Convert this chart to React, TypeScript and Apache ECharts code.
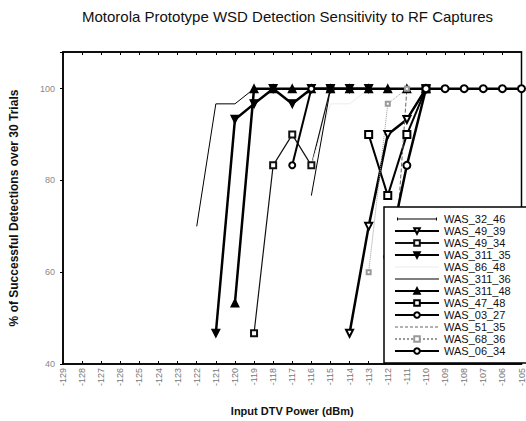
import React, { useEffect, useRef } from "react";
import * as echarts from "echarts";

// Input DTV power (dBm) positions where measurements exist
const POWER_DBM = [-122, -121, -120, -119, -118, -117, -116, -115, -114, -113, -112, -111, -110, -109, -108, -107, -106, -105];

// % of successful detections over 30 trials (null = no point)
const WAS_32_46 = [70, 96.7, 96.7, 100, null, null, null, null, null, null, null, null, null, null, null, null, null, null];
const WAS_49_39 = [null, null, null, null, null, null, null, null, 46.7, 70, 90, 93.3, 100, null, null, null, null, null];
const WAS_49_34 = [null, null, null, 46.7, 83.3, 90, 83.3, 100, null, null, null, null, null, null, null, null, null, null];
const WAS_311_35 = [null, 46.7, 93.3, 96.7, 100, 96.7, 100, 100, 100, 100, null, null, null, null, null, null, null, null];
const WAS_86_48 = [null, null, null, null, null, null, 83.3, 96.7, 96.7, 100, null, null, null, null, null, null, null, null];
const WAS_311_36 = [null, null, null, null, null, null, 76.7, 100, null, null, null, null, null, null, null, null, null, null];
const WAS_311_48 = [null, null, 53.3, 100, 100, 100, 100, 100, 100, 100, 100, 100, 100, null, null, null, null, null];
const WAS_47_48 = [null, null, null, null, null, null, null, null, null, 90, 76.7, 90, 100, null, null, null, null, null];
const WAS_03_27 = [null, null, null, null, null, 83.3, 100, null, null, null, null, null, null, null, null, null, null, null];
const WAS_51_35 = [null, null, null, null, null, null, null, null, null, null, 40, 100, null, null, null, null, null, null];
const WAS_68_36 = [null, null, null, null, null, null, null, null, null, 60, 96.7, 100, null, null, null, null, null, null];
const WAS_06_34 = [null, null, null, null, null, null, null, null, null, null, 63.3, 83.3, 100, 100, 100, 100, 100, 100];

const SERIES_NAMES = ["WAS_32_46", "WAS_49_39", "WAS_49_34", "WAS_311_35", "WAS_86_48", "WAS_311_36", "WAS_311_48", "WAS_47_48", "WAS_03_27", "WAS_51_35", "WAS_68_36", "WAS_06_34"];
const SERIES_VALUES = [WAS_32_46, WAS_49_39, WAS_49_34, WAS_311_35, WAS_86_48, WAS_311_36, WAS_311_48, WAS_47_48, WAS_03_27, WAS_51_35, WAS_68_36, WAS_06_34];

const STYLES: any[] = [
  { symbol: "none", color: "#000", width: 1, type: "solid", icon: "tick" },
  { symbol: "emptyTriangle", symbolSize: 7, rotate: 180, color: "#000", width: 2.5, type: "solid" },
  { symbol: "emptyRect", symbolSize: 6, color: "#111", width: 1.2, type: "solid" },
  { symbol: "triangle", symbolSize: 8, rotate: 180, color: "#000", width: 2.5, type: "solid" },
  { symbol: "none", color: "#ececec", width: 1, type: "solid", icon: "solid" },
  { symbol: "none", color: "#000", width: 1, type: "solid", icon: "solid" },
  { symbol: "triangle", symbolSize: 8, color: "#000", width: 2.5, type: "solid" },
  { symbol: "emptyRect", symbolSize: 7, color: "#000", width: 2, type: "solid" },
  { symbol: "emptyCircle", symbolSize: 6, color: "#000", width: 2, type: "solid" },
  { symbol: "none", color: "#666", width: 1, type: "dashed", icon: "dashed" },
  { symbol: "emptyRect", symbolSize: 4, color: "#999", width: 1, type: "dotted" },
  { symbol: "emptyCircle", symbolSize: 7, color: "#000", width: 2.5, type: "solid" },
];

// legend icon paths (44x7 box, thin line through the middle)
const CORNERS = " M0,0 L0.05,0 L0.05,0.05 Z M44,7 L43.95,7 L43.95,6.95 Z";
function iconPath(kind: string): string {
  if (kind === "tick") {
    return "path://M2,3 L42,3 L42,4 L2,4 Z M2,2 L3,2 L3,5 L2,5 Z M41,2 L42,2 L42,5 L41,5 Z" + CORNERS;
  }
  if (kind === "dashed") {
    let d = "";
    for (let x = 0; x < 44; x += 5) {
      const e = Math.min(x + 3, 44);
      d += `M${x},3 L${e},3 L${e},4 L${x},4 Z `;
    }
    return "path://" + d + CORNERS;
  }
  return "path://M0,3 L44,3 L44,4 L0,4 Z" + CORNERS;
}

const FONT = "'Liberation Sans', Arial, sans-serif";

export default function App() {
  const ref = useRef<HTMLDivElement>(null);
  useEffect(() => {
    if (!ref.current) return;
    document.body.style.margin = "0";
    const chart = echarts.init(ref.current, null, { renderer: "svg" });
    const series = SERIES_NAMES.map((name, i) => {
      const s = STYLES[i];
      return {
        name,
        type: "line",
        xAxisIndex: 0,
        data: POWER_DBM.map((p, j) => [p, SERIES_VALUES[i][j]]),
        connectNulls: false,
        symbol: s.symbol,
        symbolSize: s.symbolSize || 4,
        symbolRotate: s.rotate || 0,
        showSymbol: s.symbol !== "none",
        lineStyle: { color: s.color, width: s.width, type: s.type },
        itemStyle: { color: s.color, borderColor: s.color, borderWidth: 1.2 },
        emphasis: { disabled: true },
      };
    });
    const legendData = SERIES_NAMES.map((name, i) => {
      const s = STYLES[i];
      if (s.icon) {
        return { name, icon: iconPath(s.icon), itemStyle: { color: s.color, borderWidth: 0 } };
      }
      return { name };
    });
    chart.setOption({
      animation: false,
      textStyle: { fontFamily: FONT },
      title: {
        text: "Motorola Prototype WSD Detection Sensitivity to RF Captures",
        left: 77,
        top: 4,
        textStyle: { fontSize: 15, fontWeight: "normal", color: "#111", fontFamily: FONT },
      },
      grid: { left: 61, right: 4, top: 52, bottom: 52, show: true, borderColor: "#000", borderWidth: 1.5, backgroundColor: "#fff" },
      legend: {
        orient: "vertical",
        left: 384,
        top: 207,
        padding: [6, 17, 6, 10],
        itemWidth: 44,
        itemHeight: 7,
        itemGap: 0,
        backgroundColor: "#fff",
        borderColor: "#000",
        borderWidth: 1.5,
        z: 10,
        textStyle: { fontSize: 11, lineHeight: 12, color: "#111", fontFamily: FONT },
        data: legendData,
      },
      xAxis: [
        {
          type: "value",
          min: -129,
          max: -105,
          interval: 1,
          name: "Input DTV Power (dBm)",
          nameLocation: "middle",
          nameGap: 41,
          nameTextStyle: { fontSize: 11, fontWeight: "bold", color: "#111", fontFamily: FONT },
          axisLine: { lineStyle: { color: "#000", width: 1.5 } },
          axisTick: { inside: true, length: 3, lineStyle: { color: "#000" } },
          axisLabel: { rotate: 90, fontSize: 9, color: "#777", margin: 4, formatter: (v: number) => String(v) },
          splitLine: { show: false },
        },
        {
          type: "value",
          position: "top",
          min: -129,
          max: -105,
          interval: 1,
          axisLine: { lineStyle: { color: "#000", width: 1.5 } },
          axisTick: { inside: true, length: 3, lineStyle: { color: "#000" } },
          axisLabel: { show: false },
          splitLine: { show: false },
        },
      ],
      yAxis: {
        type: "value",
        min: 40,
        max: 108,
        interval: 20,
        name: "% of Successful Detections over 30 Trials",
        nameLocation: "middle",
        nameGap: 43,
        nameTextStyle: { fontSize: 12, fontWeight: "bold", color: "#111", fontFamily: FONT },
        axisLine: { lineStyle: { color: "#000", width: 1.5 } },
        axisTick: { length: 3, lineStyle: { color: "#000" } },
        axisLabel: { fontSize: 9, color: "#888", margin: 8, formatter: (v: number) => (v % 20 === 0 ? String(v) : "") },
        splitLine: { show: false },
      },
      series,
    });
    return () => chart.dispose();
  }, []);
  return <div ref={ref} style={{ width: 526, height: 421 }} />;
}
